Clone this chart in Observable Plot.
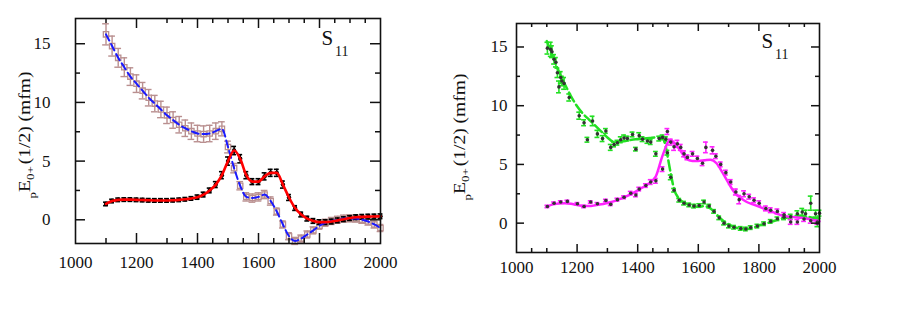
<!DOCTYPE html>
<html><head><meta charset="utf-8">
<script src="https://cdn.jsdelivr.net/npm/d3@7"></script>
<script src="https://cdn.jsdelivr.net/npm/@observablehq/plot@0.6"></script>
<style>
body{margin:0;background:#fff;width:900px;height:323px;overflow:hidden;font-family:"Liberation Serif","DejaVu Serif",serif}
#wrap{position:relative;width:900px;height:323px}
.panel{position:absolute;top:0}
.panel svg text{font-family:"Liberation Serif","DejaVu Serif",serif !important}
</style></head><body>
<div id="wrap"><div class="panel" id="p1" style="left:0"></div><div class="panel" id="p2" style="left:450px"></div></div>
<script>
// ---------- Left panel data ----------
const leftW = [1100,1120,1140,1160,1180,1200,1220,1240,1260,1280,1300,1320,1340,1360,1380,1400,1420,1440,1460,1480,1500,1520,1540,1560,1580,1600,1620,1640,1660,1680,1700,1720,1740,1760,1780,1800,1820,1840,1860,1880,1900,1920,1940,1960,1980,2000];
const leftRe = [15.8,14.8,13.8,13.0,12.2,11.6,11.0,10.4,9.9,9.4,8.9,8.5,8.1,7.8,7.55,7.35,7.3,7.35,7.55,7.75,6.2,4.4,2.9,1.95,1.85,1.95,2.15,1.6,0.7,-0.4,-1.4,-1.8,-1.6,-1.25,-0.9,-0.5,-0.25,-0.1,0.0,0.1,0.12,0.1,0.0,-0.15,-0.4,-0.7];
const leftReErr = [0.9,0.85,0.8,0.8,0.75,0.75,0.7,0.7,0.7,0.7,0.7,0.7,0.7,0.7,0.7,0.7,0.7,0.7,0.7,0.6,0.5,0.4,0.35,0.35,0.35,0.35,0.35,0.35,0.3,0.3,0.3,0.3,0.3,0.3,0.3,0.3,0.3,0.3,0.3,0.3,0.3,0.3,0.3,0.3,0.3,0.3];
const leftIm = [1.35,1.6,1.7,1.72,1.72,1.7,1.68,1.66,1.65,1.65,1.65,1.67,1.7,1.75,1.82,1.93,2.15,2.5,3.0,3.8,5.0,5.9,5.2,3.8,3.25,3.25,3.7,4.0,4.0,3.0,1.9,1.0,0.45,0.1,-0.1,-0.2,-0.2,-0.15,-0.05,0.05,0.15,0.22,0.25,0.27,0.28,0.3];
const leftImErr = [0.15,0.15,0.15,0.15,0.15,0.15,0.15,0.15,0.15,0.15,0.15,0.15,0.15,0.15,0.15,0.18,0.2,0.2,0.25,0.3,0.35,0.35,0.35,0.3,0.25,0.25,0.3,0.3,0.3,0.3,0.25,0.2,0.2,0.2,0.2,0.2,0.2,0.2,0.2,0.2,0.2,0.2,0.2,0.2,0.2,0.2];

// ---------- Right panel data ----------
const rightReW = [1102,1113,1117,1124,1130,1135,1140,1146,1150,1157,1174,1207,1223,1234,1251,1267,1284,1295,1311,1322,1333,1344,1355,1366,1383,1394,1405,1416,1432,1443,1460,1471,1482,1493,1498,1509,1520,1537,1553,1570,1586,1603,1619,1636,1652,1669,1685,1701,1718,1740,1757,1773,1795,1817,1839,1861,1883,1905,1927,1943,1954,1971,1987,1993,2000];
const rightReV = [14.9,14.8,14.6,13.95,13.7,12.8,11.6,12.4,12.1,11.9,10.7,9.15,8.55,7.1,8.7,7.6,7.2,7.85,6.45,6.7,6.85,7.1,7.25,7.2,7.55,6.3,7.45,7.15,7.0,6.9,5.9,7.2,7.3,7.15,6.0,3.9,2.8,1.95,1.7,1.55,1.45,1.5,1.8,1.45,1.0,0.45,0.0,-0.25,-0.35,-0.45,-0.5,-0.38,-0.25,-0.05,0.15,0.37,0.5,0.55,0.8,0.95,0.8,1.7,0.8,0.0,0.85];
const rightReErr = [0.5,0.6,0.5,0.4,0.4,0.4,0.5,0.5,0.4,0.5,0.3,0.3,0.25,0.2,0.4,0.3,0.25,0.2,0.25,0.2,0.2,0.25,0.25,0.2,0.2,0.15,0.25,0.2,0.2,0.2,0.2,0.2,0.2,0.2,0.2,0.2,0.15,0.15,0.15,0.15,0.15,0.15,0.15,0.15,0.15,0.15,0.15,0.15,0.15,0.15,0.15,0.15,0.15,0.15,0.15,0.15,0.2,0.2,0.25,0.3,0.3,0.6,0.3,0.3,0.25];
const rightImW = [1102,1124,1146,1168,1201,1223,1245,1267,1295,1311,1333,1355,1377,1394,1405,1427,1443,1460,1482,1498,1509,1520,1531,1542,1553,1564,1581,1597,1614,1625,1647,1658,1674,1691,1707,1724,1735,1751,1768,1784,1801,1823,1839,1861,1883,1905,1927,1949,1971,1993];
const rightImV = [1.42,1.7,1.8,1.85,1.65,1.42,1.8,1.65,1.93,1.6,2.0,2.2,2.55,2.4,2.9,3.2,3.5,3.6,4.6,7.8,6.9,6.5,6.75,6.45,5.9,5.6,5.9,5.5,5.1,6.45,6.2,5.7,5.0,4.3,3.5,2.65,2.0,2.5,2.25,1.95,1.7,1.25,1.1,1.0,0.7,0.1,0.1,0.35,0.2,0.1];
const rightImErr = [0.1,0.1,0.1,0.1,0.1,0.1,0.1,0.1,0.1,0.1,0.12,0.12,0.15,0.15,0.15,0.15,0.2,0.2,0.2,0.25,0.25,0.3,0.3,0.25,0.25,0.2,0.2,0.2,0.2,0.45,0.3,0.2,0.2,0.2,0.2,0.25,0.35,0.25,0.2,0.2,0.2,0.2,0.2,0.2,0.2,0.2,0.2,0.2,0.2,0.2];
const rightFitW = [1100,1120,1140,1160,1180,1200,1220,1240,1260,1280,1300,1320,1340,1360,1380,1400,1420,1440,1460,1480,1490,1500,1510,1520,1540,1560,1580,1600,1620,1640,1660,1680,1700,1720,1740,1760,1780,1800,1820,1840,1860,1880,1900,1920,1940,1960,1980,2000];
const rightReFit = [15.5,14.2,12.9,11.8,10.8,9.95,9.3,8.8,8.3,7.8,7.3,6.95,6.95,7.0,7.1,7.15,7.2,7.25,7.3,7.3,6.8,5.5,4.1,2.9,2.0,1.65,1.45,1.4,1.45,1.25,0.75,0.25,-0.1,-0.35,-0.45,-0.48,-0.4,-0.2,-0.05,0.1,0.28,0.42,0.52,0.62,0.62,0.55,0.45,0.4];
const rightImFit = [1.4,1.6,1.68,1.7,1.65,1.55,1.47,1.45,1.52,1.6,1.72,1.85,2.05,2.25,2.5,2.8,3.1,3.45,4.0,5.6,6.3,6.9,7.05,6.85,6.2,5.5,5.3,5.3,5.35,5.4,5.1,4.3,3.4,2.6,2.15,1.8,1.6,1.4,1.2,1.0,0.8,0.62,0.55,0.5,0.45,0.38,0.25,0.15];

// ---------- Tick labels ----------
const xTickLabels = [1000,1200,1400,1600,1800,2000];
const yTickLabels = [0,5,10,15];
const leftXMinor = [1100,1300,1350,1450,1500,1550,1650,1700,1750,1850,1900,1950];
const rightXMinor = [1050,1100,1300,1450,1500,1700,1900,1950];
const xMajor = [1200,1400,1600,1800];
const yMinor = [2.5,7.5,12.5];

const FONT = '"Liberation Serif","DejaVu Serif",serif';
const rows = (W, V, E) => W.map((w, i) => ({W: w, v: V[i], e: E ? E[i] : 0}));

function axes(o) {
  const fw = o.fw, fh = o.fh;
  const st = {stroke: "#111", strokeWidth: 1.5};
  return [
    Plot.frame({stroke: "#111", strokeWidth: 1.6}),
    Plot.axisX({anchor: "bottom", ticks: xTickLabels, tickSize: 0, tickPadding: o.xPad, tickFormat: d => String(d), label: null, fill: "#111"}),
    Plot.axisY({anchor: "left", ticks: yTickLabels, tickSize: 0, tickPadding: o.yPad, tickFormat: d => String(d), label: null, fill: "#111"}),
    // inward ticks: bottom, top, right, left
    Plot.tickX(xMajor, {x: d => d, insetTop: fh - o.long, ...st}),
    Plot.tickX(o.xMinor, {x: d => d, insetTop: fh - o.short, ...st}),
    Plot.tickX(xMajor, {x: d => d, insetBottom: fh - o.long, ...st}),
    Plot.tickX(o.xMinor, {x: d => d, insetBottom: fh - o.short, ...st}),
    Plot.tickY(yTickLabels, {y: d => d, insetLeft: fw - o.long, ...st}),
    Plot.tickY(yMinor, {y: d => d, insetLeft: fw - o.short, ...st}),
    Plot.tickY(yTickLabels, {y: d => d, insetRight: fw - o.long, ...st}),
    Plot.tickY(yMinor, {y: d => d, insetRight: fw - o.short, ...st})
  ];
}

function errorBars(data, color, cap, width) {
  return [
    Plot.ruleX(data, {x: "W", y1: d => d.v - d.e, y2: d => d.v + d.e, stroke: color, strokeWidth: width}),
    Plot.ruleY(data, {y: d => d.v + d.e, x1: d => d.W - cap, x2: d => d.W + cap, stroke: color, strokeWidth: width}),
    Plot.ruleY(data, {y: d => d.v - d.e, x1: d => d.W - cap, x2: d => d.W + cap, stroke: color, strokeWidth: width})
  ];
}

function yLabel(svg, x, y) {
  const t = d3.select(svg).append("text")
    .attr("transform", `translate(${x},${y}) rotate(-90) scale(1,0.82)`)
    .attr("text-anchor", "middle")
    .attr("fill", "#111")
    .style("font-family", FONT)
    .style("font-size", "19.5px");
  t.append("tspan").style("font-size", "13px").attr("dy", 7).text("p");
  t.append("tspan").attr("dy", -7).text("E");
  t.append("tspan").style("font-size", "13px").attr("dy", 5).text("0+");
  t.append("tspan").attr("dy", -5).attr("dx", 2).text("(1/2) (mfm)");
}
function sLabel(svg, x, y) {
  const t = d3.select(svg).append("text")
    .attr("x", x).attr("y", y).attr("fill", "#111")
    .style("font-family", FONT).style("font-size", "21px");
  t.append("tspan").text("S");
  t.append("tspan").style("font-size", "14px").attr("dx", 2).attr("dy", 11).text("11");
}

// ---------- Left panel ----------
const reL = rows(leftW, leftRe, leftReErr);
const imL = rows(leftW, leftIm, leftImErr);
const brown = "#b98f8f";
const p1 = Plot.plot({
  width: 450, height: 323,
  marginLeft: 75, marginRight: 70, marginTop: 18, marginBottom: 80,
  x: {domain: [1000, 2000]},
  y: {domain: [-2.02, 17.15]},
  style: {fontFamily: FONT, fontSize: "17px", background: "white", color: "#111"},
  marks: [
    ...errorBars(reL, brown, 11, 1.4),
    Plot.dot(reL, {x: "W", y: "v", symbol: "square", r: 3, stroke: brown, strokeWidth: 1.3, fill: "none"}),
    ...errorBars(imL, "#000", 8, 1.6),
    Plot.dot(imL, {x: "W", y: "v", r: 2.2, fill: "#000"}),
    Plot.line(reL, {x: "W", y: "v", stroke: "#1a1aff", strokeWidth: 2, strokeDasharray: "7,4", curve: "monotone-x"}),
    Plot.line(imL, {x: "W", y: "v", stroke: "#ff0000", strokeWidth: 2.6, curve: "monotone-x"}),
    ...axes({xPad: 12, yPad: 25, long: 10, short: 5, xMinor: leftXMinor, fw: 305, fh: 225})
  ]
});
yLabel(p1, 30, 135);
sLabel(p1, 335, 45);
document.getElementById("p1").appendChild(p1);

// ---------- Right panel ----------
const reR = rows(rightReW, rightReV, rightReErr);
const imR = rows(rightImW, rightImV, rightImErr);
const reFit = rows(rightFitW, rightReFit);
const imFit = rows(rightFitW, rightImFit);
const green = "#22e022", magenta = "#ff22ff";
const p2 = Plot.plot({
  width: 450, height: 323,
  marginLeft: 66, marginRight: 81, marginTop: 23, marginBottom: 71,
  x: {domain: [1000, 2000]},
  y: {domain: [-2.5, 17.0]},
  style: {fontFamily: FONT, fontSize: "17px", background: "white", color: "#111"},
  marks: [
    ...errorBars(reR, green, 8, 1.6),
    ...errorBars(imR, magenta, 8, 1.6),
    Plot.line(reFit, {x: "W", y: "v", stroke: green, strokeWidth: 2.5, strokeDasharray: "10,4", curve: "monotone-x"}),
    Plot.line(imFit, {x: "W", y: "v", stroke: magenta, strokeWidth: 2.5, curve: "monotone-x"}),
    Plot.dot(reR, {x: "W", y: "v", r: 1.8, fill: "#333"}),
    Plot.dot(imR, {x: "W", y: "v", r: 1.8, fill: "#333"}),
    ...axes({xPad: 8, yPad: 9, long: 8, short: 4, xMinor: rightXMinor, fw: 303, fh: 229})
  ]
});
yLabel(p2, 15, 137);
sLabel(p2, 325, 48);
document.getElementById("p2").appendChild(p2);
</script>
</body></html>
